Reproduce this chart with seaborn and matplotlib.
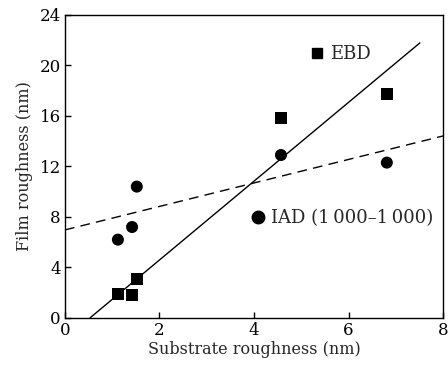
import numpy as np
import pandas as pd
import seaborn as sns
import matplotlib
matplotlib.use("Agg")
from matplotlib import pyplot as plt
from matplotlib.lines import Line2D

# substrate roughness (nm), shared by both deposition methods
substrate = [1.12, 1.42, 1.52, 4.57, 6.81]
# film roughness (nm)
ebd_film = [1.9, 1.8, 3.1, 15.8, 17.7]
iad_film = [6.2, 7.2, 10.4, 12.9, 12.3]

# linear fits: slope, intercept, x range
ebd_fit = [3.12, -1.65]
ebd_fit_x = [0.53, 7.51]
iad_fit = [0.93, 6.97]
iad_fit_x = [0.0, 8.0]

x_ticks = [0, 2, 4, 6, 8]
y_ticks = [0, 4, 8, 12, 16, 20, 24]

sns.set_style("ticks")
plt.rcParams["font.family"] = ["DejaVu Serif"]
plt.rcParams["mathtext.fontset"] = "dejavuserif"

df = pd.DataFrame({
    "x": substrate * 2,
    "y": ebd_film + iad_film,
    "group": ["EBD"] * len(ebd_film) + ["IAD"] * len(iad_film),
})

fig = plt.figure(figsize=(4.48, 3.71), dpi=100)
ax = fig.add_axes([0.145, 0.143, 0.844, 0.817])

sns.scatterplot(data=df, x="x", y="y", style="group", markers={"EBD": "s", "IAD": "o"},
                color="black", s=75, edgecolor="none", legend=False, ax=ax)

fx = np.array(ebd_fit_x)
sns.lineplot(x=fx, y=ebd_fit[0] * fx + ebd_fit[1], color="black", lw=1.0, ax=ax)
fx = np.array(iad_fit_x)
ax.plot(fx, iad_fit[0] * fx + iad_fit[1], color="black", lw=1.0, dashes=(7, 4.5))

ax.set_xlim(0, 8)
ax.set_ylim(0, 24)
ax.set_xticks(x_ticks)
ax.set_yticks(y_ticks)
ax.tick_params(direction="in", length=4, width=1, labelsize=12, colors="black", pad=3)
for sp in ax.spines.values():
    sp.set_linewidth(1)
    sp.set_color("black")
ax.set_xlabel("Substrate roughness (nm)", fontsize=11.5, labelpad=1)
ax.set_ylabel("Film roughness (nm)", fontsize=11.5, labelpad=5)

h1 = Line2D([], [], marker="s", color="black", ls="none", markersize=7)
h2 = Line2D([], [], marker="o", color="black", ls="none", markersize=9)
leg1 = ax.legend([h1], ["EBD"], loc="center left", bbox_to_anchor=(0.60, 0.87),
                 frameon=False, fontsize=13, handletextpad=0.2, handlelength=1)
ax.add_artist(leg1)
ax.legend([h2], ["IAD (1\u2009000\u20131\u2009000)"], loc="center left",
          bbox_to_anchor=(0.445, 0.33), frameon=False, fontsize=13,
          handletextpad=0.2, handlelength=1)

plt.savefig("out.png", dpi=100)
